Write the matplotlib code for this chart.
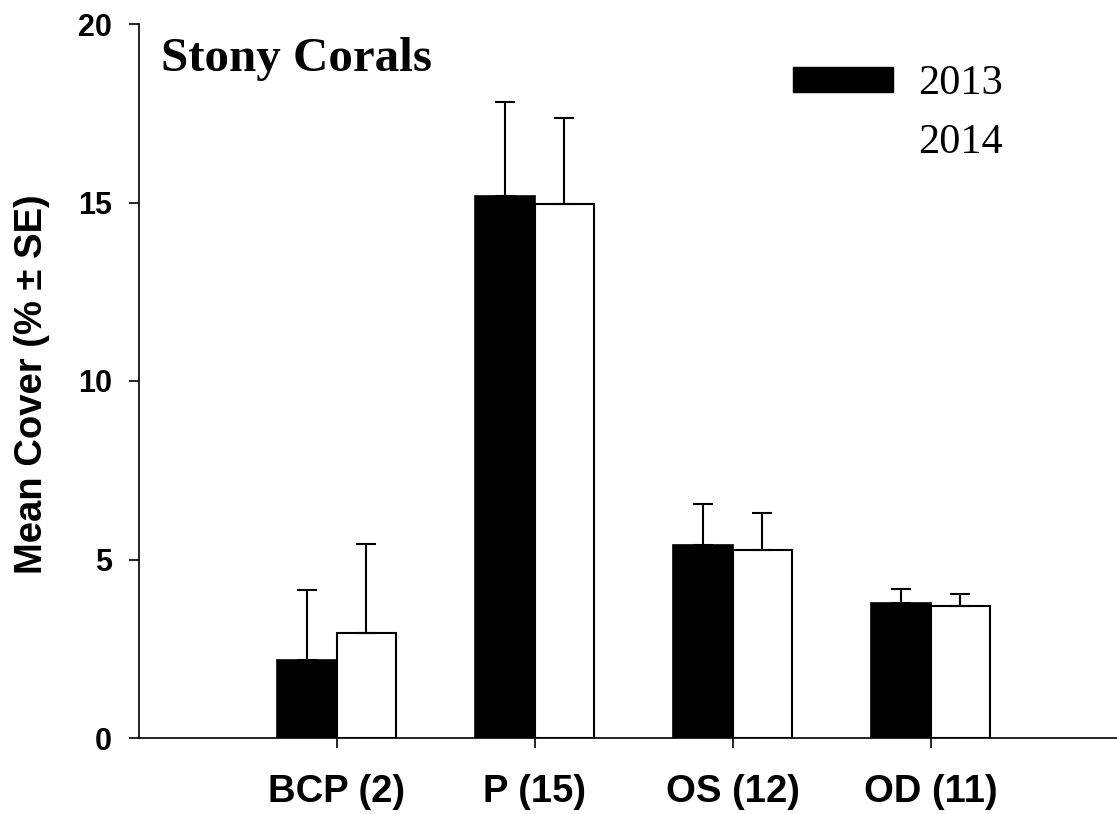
import numpy as np
import matplotlib
matplotlib.use("Agg")
import matplotlib.pyplot as plt
from matplotlib.patches import Patch

# valori
categories = ["BCP (2)", "P (15)", "OS (12)", "OD (11)"]
mean_2013 = [2.19, 15.18, 5.40, 3.78]
se_2013 = [1.95, 2.63, 1.16, 0.39]
mean_2014 = [2.94, 14.95, 5.28, 3.70]
se_2014 = [2.50, 2.42, 1.03, 0.33]
years = ["2013", "2014"]

W, H = 1117, 814
fig = plt.figure(figsize=(W / 100, H / 100), dpi=100)

# assi posizionati in pixel
x0, x5 = 138.6, 1128.6
y0, y20 = 738, 24
ax = fig.add_axes([x0 / W, (H - y0) / H, (x5 - x0) / W, (y0 - y20) / H])

pos = np.arange(1, len(categories) + 1)
w = 0.3
err_kw = dict(elinewidth=1.5, capsize=7.2, capthick=1.5, ecolor="black")

ax.bar(pos - w / 2, mean_2013, w, color="black", edgecolor="black", linewidth=1.2,
       yerr=[np.zeros(len(se_2013)), se_2013], error_kw=err_kw, zorder=2)
ax.bar(pos + w / 2, mean_2014, w, color="white", edgecolor="black", linewidth=1.5,
       yerr=[np.zeros(len(se_2014)), se_2014], error_kw=err_kw, zorder=2)

ax.set_xlim(0, 5)
ax.set_ylim(0, 20)
ax.set_yticks([0, 5, 10, 15, 20])
ax.set_xticks(pos)
ax.set_xticklabels(categories)

for s in ["top", "right"]:
    ax.spines[s].set_visible(False)
for s in ["left", "bottom"]:
    ax.spines[s].set_linewidth(1.2)

arial = "Liberation Sans"
ax.tick_params(axis="y", direction="out", length=7, width=1.2, pad=12,
               labelsize=22)
ax.tick_params(axis="x", direction="out", length=7, width=1.2, pad=19,
               labelsize=27.5)
for lab in ax.get_yticklabels() + ax.get_xticklabels():
    lab.set_fontfamily(arial)
    lab.set_fontweight("bold")

fig.text(32 / W, (H - 384) / H, "Mean Cover (% \u00b1 SE)", rotation=90,
         ha="center", va="center", fontsize=27.5, fontweight="bold", family=arial)

fig.text(161 / W, (H - 71) / H, "Stony Corals", fontsize=35.3, fontweight="bold",
         family="Liberation Serif", ha="left", va="baseline")

handles = [Patch(facecolor="black", edgecolor="black"),
           Patch(facecolor="white", edgecolor="none")]
ax.legend(handles, years, loc="upper left", bbox_to_anchor=(793 / W, (H - 65) / H),
          bbox_transform=fig.transFigure, frameon=False, borderpad=0,
          borderaxespad=0, handlelength=2.36, handleheight=0.52,
          handletextpad=0.59, labelspacing=0.48,
          prop={"family": "Liberation Serif", "size": 30.5})

fig.savefig("out.png", dpi=100)
